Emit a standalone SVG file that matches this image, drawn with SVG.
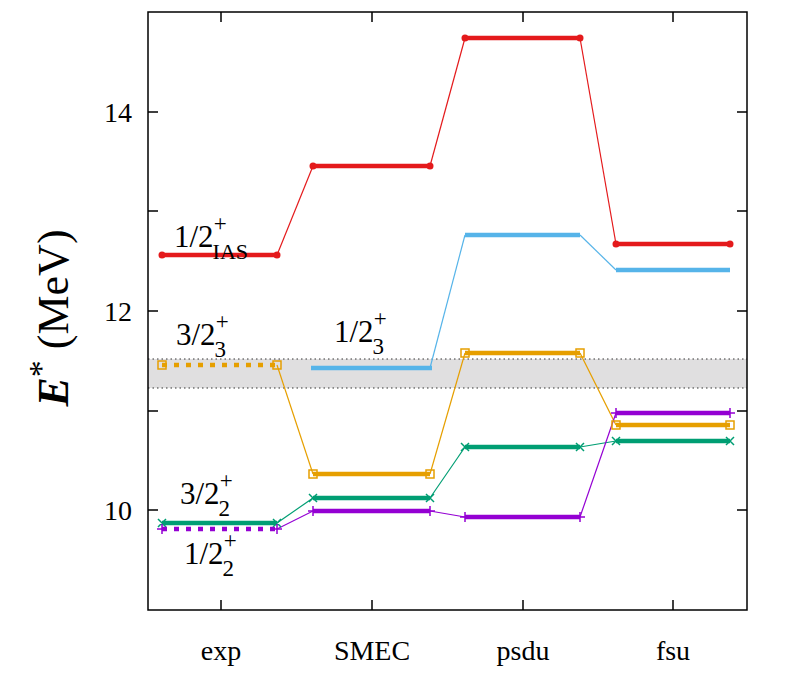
<svg xmlns="http://www.w3.org/2000/svg" width="789" height="677" viewBox="0 0 789 677" font-family="Liberation Serif, DejaVu Serif, serif">
<style>
text{font-family:'Liberation Serif','DejaVu Serif',serif;fill:#000}
.t{font-size:28px}
.lv{stroke-width:4.5;fill:none}
.cn{stroke-width:1.2;fill:none}
.r{stroke:#e41a1c}.b{stroke:#56b4e9}.o{stroke:#e69f00}.g{stroke:#009e73}.p{stroke:#9400d3}
.ax{stroke:#000;stroke-width:1.5;fill:none}
</style>
<rect x="0" y="0" width="789" height="677" fill="#fff"/>
<rect x="148" y="359" width="599" height="29" fill="#e0dfe0"/>
<line x1="148" y1="359" x2="747" y2="359" stroke="#333" stroke-width="1" stroke-dasharray="1.5,3"/>
<line x1="148" y1="388" x2="747" y2="388" stroke="#333" stroke-width="1" stroke-dasharray="1.5,3"/>
<g id="connectors">
<polyline class="cn r" points="277,255 313,166"/><polyline class="cn r" points="430,166 465,38"/><polyline class="cn r" points="580,38 616,244"/>
<polyline class="cn b" points="430,368 465,235"/><polyline class="cn b" points="580,235 616,270"/>
<polyline class="cn o" points="277,365 313,474"/><polyline class="cn o" points="430,474 465,353"/><polyline class="cn o" points="580,353 616,425"/>
<polyline class="cn g" points="277,523 313,498"/><polyline class="cn g" points="430,498 465,447"/><polyline class="cn g" points="580,447 616,441"/>
<polyline class="cn p" points="277,529 313,511"/><polyline class="cn p" points="430,511 465,517"/><polyline class="cn p" points="580,517 616,413"/>
</g>
<g id="red">
<line class="lv r" x1="162" y1="255" x2="277" y2="255"/><line class="lv r" x1="313" y1="166" x2="430" y2="166"/><line class="lv r" x1="465" y1="38" x2="580" y2="38"/><line class="lv r" x1="616" y1="244" x2="730" y2="244"/>
<g fill="#e41a1c"><circle cx="162" cy="255" r="3.5"/><circle cx="277" cy="255" r="3.5"/><circle cx="313" cy="166" r="3.5"/><circle cx="430" cy="166" r="3.5"/><circle cx="465" cy="38" r="3.5"/><circle cx="580" cy="38" r="3.5"/><circle cx="616" cy="244" r="3.5"/><circle cx="730" cy="244" r="3.5"/></g>
</g>
<g id="blue">
<line class="lv b" x1="311" y1="368" x2="432" y2="368"/><line class="lv b" x1="465" y1="235" x2="580" y2="235"/><line class="lv b" x1="616" y1="270" x2="730" y2="270"/>
</g>
<g id="orange">
<line class="o" stroke-width="4.5" stroke-dasharray="5,7" x1="162" y1="365" x2="277" y2="365"/><line class="lv o" x1="313" y1="474" x2="430" y2="474"/><line class="lv o" x1="465" y1="353" x2="580" y2="353"/><line class="lv o" x1="616" y1="425" x2="730" y2="425"/>
<g class="o" fill="none" stroke-width="1.5"><rect x="158" y="361" width="8" height="8"/><rect x="273" y="361" width="8" height="8"/><rect x="309" y="470" width="8" height="8"/><rect x="426" y="470" width="8" height="8"/><rect x="461" y="349" width="8" height="8"/><rect x="576" y="349" width="8" height="8"/><rect x="612" y="421" width="8" height="8"/><rect x="726" y="421" width="8" height="8"/></g>
</g>
<g id="green">
<line class="lv g" x1="162" y1="523" x2="277" y2="523"/><line class="lv g" x1="313" y1="498" x2="430" y2="498"/><line class="lv g" x1="465" y1="447" x2="580" y2="447"/><line class="lv g" x1="616" y1="441" x2="730" y2="441"/>
<path class="g" stroke-width="1.5" d="M158,519l8,8m0,-8l-8,8M273,519l8,8m0,-8l-8,8M309,494l8,8m0,-8l-8,8M426,494l8,8m0,-8l-8,8M461,443l8,8m0,-8l-8,8M576,443l8,8m0,-8l-8,8M612,437l8,8m0,-8l-8,8M726,437l8,8m0,-8l-8,8"/>
</g>
<g id="purple">
<line class="p" stroke-width="4.5" stroke-dasharray="5,7" x1="162" y1="529" x2="277" y2="529"/><line class="lv p" x1="313" y1="511" x2="430" y2="511"/><line class="lv p" x1="465" y1="517" x2="580" y2="517"/><line class="lv p" x1="616" y1="413" x2="730" y2="413"/>
<path class="p" stroke-width="1.5" d="M157,529h10m-5,-5v10M272,529h10m-5,-5v10M308,511h10m-5,-5v10M425,511h10m-5,-5v10M460,517h10m-5,-5v10M575,517h10m-5,-5v10M611,413h10m-5,-5v10M725,413h10m-5,-5v10"/>
</g>
<g id="axes">
<rect class="ax" x="148" y="12" width="599" height="598"/>
<path class="ax" d="M148,112h10M148,211h10M148,311h10M148,411h10M148,510h10M747,112h-10M747,211h-10M747,311h-10M747,411h-10M747,510h-10M221,610v-10M372,610v-10M523,610v-10M673,610v-10M221,12v10M372,12v10M523,12v10M673,12v10"/>
<g class="t" text-anchor="end"><text x="132" y="122">14</text><text x="132" y="321">12</text><text x="132" y="520">10</text></g>
<g class="t" text-anchor="middle"><text x="221" y="660">exp</text><text x="372" y="660">SMEC</text><text x="523" y="660">psdu</text><text x="673" y="660">fsu</text></g>
<text transform="translate(68,318) rotate(-90)" text-anchor="middle" font-size="44"><tspan font-weight="bold" font-style="italic">E</tspan><tspan dy="-16" font-size="34">*</tspan><tspan dy="16"> (MeV)</tspan></text>
</g>
<g id="labels" font-size="31">
<text x="174" y="247">1/2<tspan font-size="23" dy="-16">+</tspan><tspan font-size="22" dx="-14" dy="28">IAS</tspan></text>
<text x="176" y="345">3/2<tspan font-size="23" dy="-16">+</tspan><tspan font-size="23" dx="-14" dy="28">3</tspan></text>
<text x="334" y="342">1/2<tspan font-size="23" dy="-16">+</tspan><tspan font-size="23" dx="-14" dy="28">3</tspan></text>
<text x="180" y="504">3/2<tspan font-size="23" dy="-16">+</tspan><tspan font-size="23" dx="-14" dy="28">2</tspan></text>
<text x="184" y="564">1/2<tspan font-size="23" dy="-16">+</tspan><tspan font-size="23" dx="-14" dy="28">2</tspan></text>
</g>
</svg>
